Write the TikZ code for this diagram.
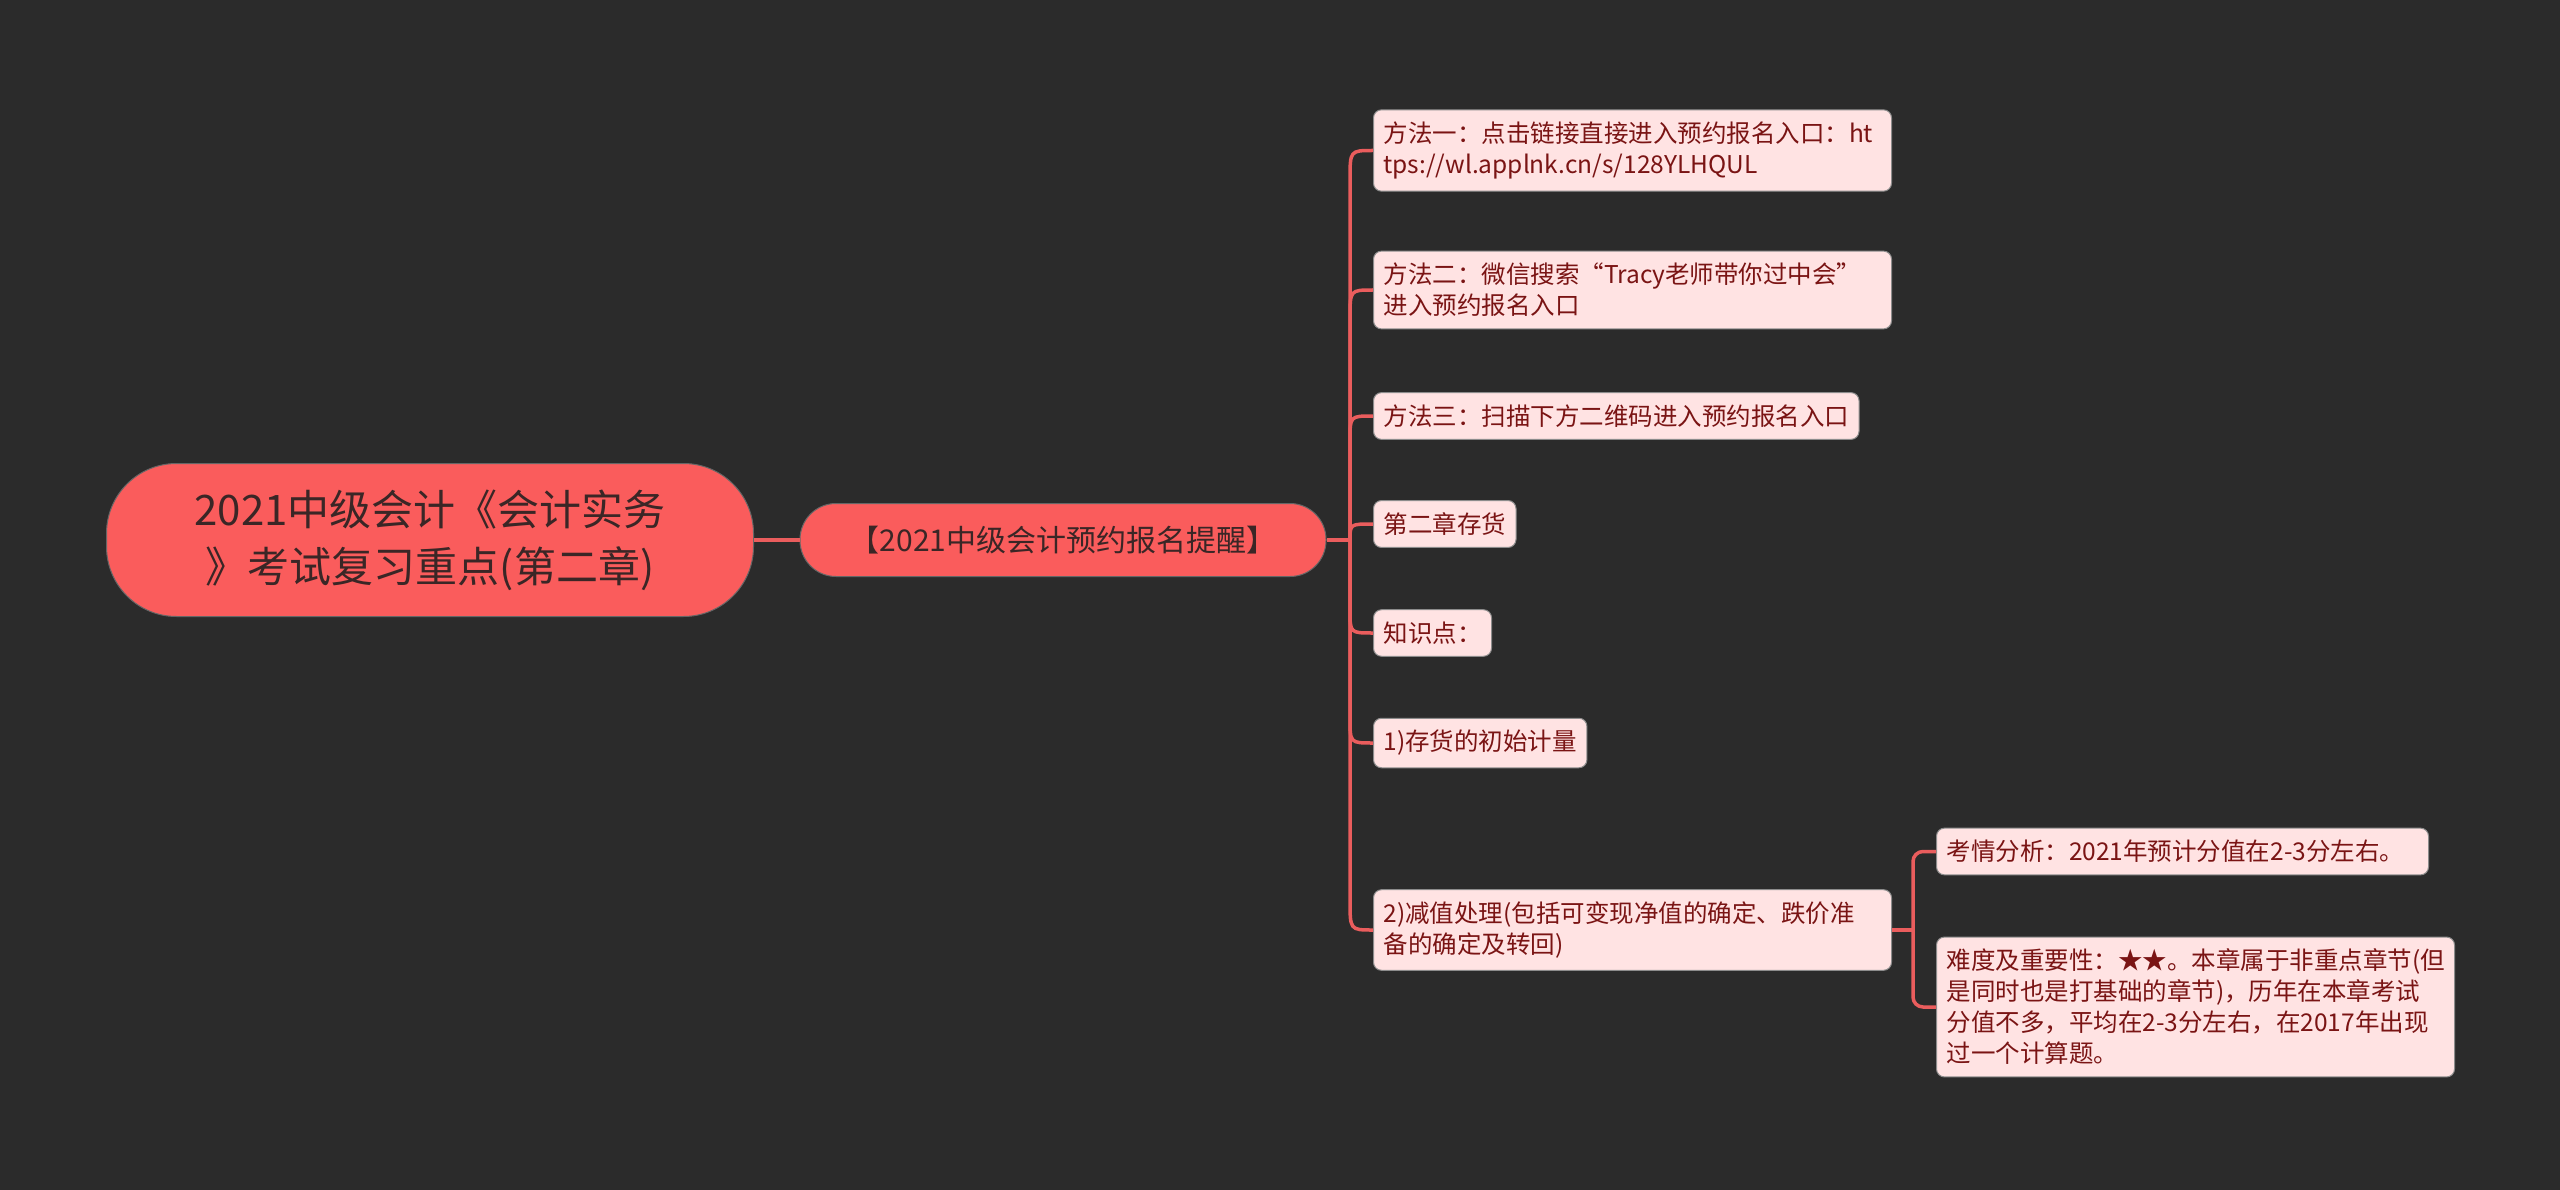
\documentclass[tikz,border=0pt]{standalone}
\usepackage{fontspec}
\setmainfont{Noto Sans CJK SC}
\definecolor{bg}{HTML}{2B2B2B}
\definecolor{rootfill}{HTML}{FA5C5C}
\definecolor{leaffill}{HTML}{FFE3E3}
\definecolor{leaftext}{HTML}{7A1414}
\definecolor{roottext}{HTML}{3A2626}
\definecolor{edgec}{HTML}{EA5D5D}
\begin{document}
\begin{tikzpicture}[x=1pt,y=-1pt,
  rootnode/.style={fill=rootfill, draw=black!60, line width=1pt, rounded corners=70pt,
    minimum width=647pt, minimum height=153pt, align=center, text=roottext,
    font=\fontsize{42}{57}\selectfont},
  subnode/.style={fill=rootfill, draw=black!60, line width=1pt, rounded corners=36pt,
    minimum width=526pt, minimum height=73pt, align=center, text=roottext,
    font=\fontsize{30}{36}\selectfont},
  leaf/.style={fill=leaffill, draw=black!45, line width=1pt, rounded corners=8pt,
    anchor=west, align=left, text=leaftext, font=\fontsize{24.5}{31}\selectfont,
    inner xsep=10pt, inner ysep=12pt},
  br/.style={draw=edgec, line width=3.5pt}
]
\useasboundingbox (0,0) rectangle (2560,1190);
\fill[bg] (0,0) rectangle (2560,1190);

\node[rootnode] (root) at (430,540) {2021中级会计《会计实务\\》考试复习重点(第二章)};
\node[subnode] (sub) at (1063,540) {【2021中级会计预约报名提醒】};

\node[leaf, text width=498pt] (l1) at (1373,150.5) {方法一：点击链接直接进入预约报名入口：ht\\tps://wl.applnk.cn/s/128YLHQUL};
\node[leaf, text width=498pt] (l2) at (1373,290) {方法二：微信搜索“Tracy老师带你过中会”\\进入预约报名入口};
\node[leaf] (l3) at (1373,416) {方法三：扫描下方二维码进入预约报名入口};
\node[leaf] (l4) at (1373,524) {第二章存货};
\node[leaf] (l5) at (1373,633) {知识点：};
\node[leaf] (l6) at (1373,743) {1)存货的初始计量};
\node[leaf, text width=498pt] (l7) at (1373,930) {2)减值处理(包括可变现净值的确定、跌价准\\备的确定及转回)};
\node[leaf, text width=472pt] (c1) at (1936,851.5) {考情分析：2021年预计分值在2-3分左右。};
\node[leaf, text width=498pt] (c2) at (1936,1007) {难度及重要性：★★。本章属于非重点章节(但\\是同时也是打基础的章节)，历年在本章考试\\分值不多，平均在2-3分左右，在2017年出现\\过一个计算题。};

\coordinate (J) at (1350,540);
\coordinate (K) at (1913,930);

\draw[br] (root.east) -- (sub.west);
\draw[br] (sub.east) -- (J);
\draw[br] (J) -- (1350,180) .. controls (1350,150.5) .. (l1.west);
\draw[br] (J) -- (1350,318) .. controls (1350,290) .. (l2.west);
\draw[br] (J) -- (1350,440) .. controls (1350,416) .. (l3.west);
\draw[br] (J) .. controls (1350,524) .. (l4.west);
\draw[br] (J) -- (1350,610) .. controls (1350,633) .. (l5.west);
\draw[br] (J) -- (1350,718) .. controls (1350,743) .. (l6.west);
\draw[br] (J) -- (1350,900) .. controls (1350,930) .. (l7.west);

\draw[br] (l7.east) -- (K);
\draw[br, rounded corners=10pt] (K) |- (c1.west);
\draw[br, rounded corners=10pt] (K) |- (c2.west);
\end{tikzpicture}
\end{document}
